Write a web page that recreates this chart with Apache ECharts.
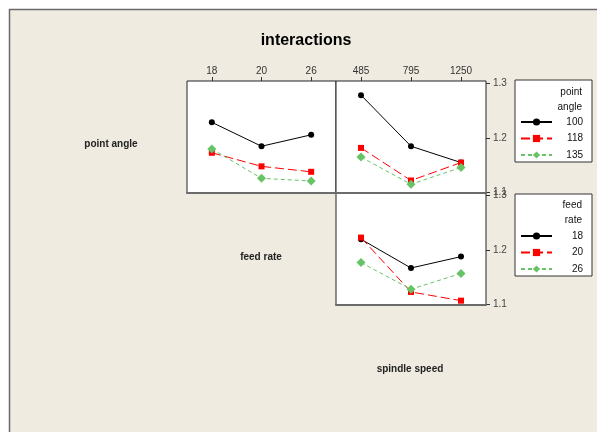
<!DOCTYPE html>
<html><head><meta charset="utf-8">
<script src="https://cdn.jsdelivr.net/npm/echarts@6/dist/echarts.min.js"></script>
<style>html,body{margin:0;padding:0;background:#fff}#c{width:597px;height:432px}</style>
</head><body><div id="c"></div>
<script>
const feedRates = ['18', '20', '26'];
const spindleSpeeds = ['485', '795', '1250'];
const pointAngles = ['100', '118', '135'];
const yTicks = [1.1, 1.2, 1.3];

// point angle x feed rate (mean response)
const paFr100 = [1.229, 1.185, 1.206];
const paFr118 = [1.173, 1.148, 1.138];
const paFr135 = [1.180, 1.126, 1.121];
// point angle x spindle speed
const paSs100 = [1.279, 1.185, 1.155];
const paSs118 = [1.182, 1.122, 1.155];
const paSs135 = [1.165, 1.115, 1.146];
// feed rate x spindle speed
const frSs18 = [1.220, 1.167, 1.188];
const frSs20 = [1.223, 1.123, 1.107];
const frSs26 = [1.177, 1.128, 1.157];

const styles = [
  {color: '#000000', symbol: 'circle', symbolSize: 6, type: 'solid'},
  {color: '#ff0000', symbol: 'rect', symbolSize: 6, type: [9, 4]},
  {color: '#66c466', symbol: 'diamond', symbolSize: 9, type: [4, 3]}
];
const FONT = 'Liberation Sans, Arial, sans-serif';
const YMIN = 1.099, YMAX = 1.305;

function mk(name, data, k, xi, yi) {
  const s = styles[k];
  return {
    name: name, type: 'line', xAxisIndex: xi, yAxisIndex: yi, data: data,
    symbol: s.symbol, symbolSize: s.symbolSize, showSymbol: true,
    itemStyle: {color: s.color},
    lineStyle: {color: s.color, width: 1, type: s.type},
    animation: false
  };
}

const gridBorder = {show: true, borderColor: '#222', borderWidth: 1, backgroundColor: '#ffffff'};
function xAx(gi, cats, showLabels) {
  return {
    type: 'category', gridIndex: gi, data: cats, position: 'top', boundaryGap: true,
    axisLine: {show: false},
    axisTick: {show: showLabels, alignWithLabel: true, length: 4, lineStyle: {color: '#333'}},
    axisLabel: {show: showLabels, color: '#333', fontSize: 10, fontFamily: FONT, margin: 5},
    splitLine: {show: false}
  };
}
function xBottom(gi, cats) {
  return {
    type: 'category', gridIndex: gi, data: cats, position: 'bottom', boundaryGap: true, z: 5,
    axisLine: {show: true, lineStyle: {color: '#6b6b6b', width: 2}},
    axisTick: {show: false}, axisLabel: {show: false}, splitLine: {show: false}
  };
}
function yAx(gi, show) {
  return {
    type: 'value', gridIndex: gi, min: YMIN, max: YMAX, position: 'right', show: show,
    axisLine: {show: false},
    axisTick: {show: true, length: 4, customValues: yTicks, lineStyle: {color: '#333'}},
    axisLabel: {show: true, customValues: yTicks, color: '#444', fontSize: 10, fontFamily: FONT, margin: 7,
      formatter: v => v.toFixed(1)},
    splitLine: {show: false}
  };
}

const legendCommon = {
  orient: 'vertical', left: 515, itemWidth: 31, itemHeight: 9, itemGap: 6.5,
  backgroundColor: '#ffffff', borderColor: '#333', borderWidth: 1,
  padding: [37, 9, 2, 5],
  formatter: n => '{a|' + n + '}',
  textStyle: {color: '#111', fontSize: 10, fontFamily: FONT,
    rich: {a: {width: 26, align: 'right', fontSize: 10, fontFamily: FONT, color: '#111'}}}
};

const option = {
  backgroundColor: '#ffffff',
  animation: false,
  graphic: [
    {type: 'rect', z: -10, shape: {x: 9.5, y: 9.5, width: 600, height: 440},
     style: {fill: '#efebe0', stroke: '#6a6a6a', lineWidth: 1.5}},
    {type: 'text', x: 306, y: 41, z: 10,
     style: {text: 'interactions', fill: '#000', font: 'bold 16px ' + FONT, textAlign: 'center', textVerticalAlign: 'middle'}},
    {type: 'text', x: 111, y: 144, style: {text: 'point angle', fill: '#222', font: 'bold 10px ' + FONT, textAlign: 'center', textVerticalAlign: 'middle'}},
    {type: 'text', x: 261, y: 257, style: {text: 'feed rate', fill: '#222', font: 'bold 10px ' + FONT, textAlign: 'center', textVerticalAlign: 'middle'}},
    {type: 'text', x: 410, y: 369, style: {text: 'spindle speed', fill: '#222', font: 'bold 10px ' + FONT, textAlign: 'center', textVerticalAlign: 'middle'}},
    {type: 'text', x: 582, y: 92, z: 20, style: {text: 'point', fill: '#111', font: '10px ' + FONT, textAlign: 'right', textVerticalAlign: 'middle'}},
    {type: 'text', x: 582, y: 107, z: 20, style: {text: 'angle', fill: '#111', font: '10px ' + FONT, textAlign: 'right', textVerticalAlign: 'middle'}},
    {type: 'text', x: 582, y: 205, z: 20, style: {text: 'feed', fill: '#111', font: '10px ' + FONT, textAlign: 'right', textVerticalAlign: 'middle'}},
    {type: 'text', x: 582, y: 220, z: 20, style: {text: 'rate', fill: '#111', font: '10px ' + FONT, textAlign: 'right', textVerticalAlign: 'middle'}}
  ],
  grid: [
    Object.assign({left: 187, top: 81, width: 149, height: 112}, gridBorder),
    Object.assign({left: 336, top: 81, width: 150, height: 112}, gridBorder),
    Object.assign({left: 336, top: 193, width: 150, height: 112}, gridBorder)
  ],
  xAxis: [xAx(0, feedRates, true), xAx(1, spindleSpeeds, true), xAx(2, spindleSpeeds, false),
          xBottom(0, feedRates), xBottom(1, spindleSpeeds), xBottom(2, spindleSpeeds)],
  yAxis: [yAx(0, false), yAx(1, true), yAx(2, true)],
  legend: [
    Object.assign({top: 80, data: pointAngles}, legendCommon),
    Object.assign({top: 194, data: feedRates}, legendCommon)
  ],
  series: [
    mk(pointAngles[0], paFr100, 0, 0, 0),
    mk(pointAngles[1], paFr118, 1, 0, 0),
    mk(pointAngles[2], paFr135, 2, 0, 0),
    mk(pointAngles[0], paSs100, 0, 1, 1),
    mk(pointAngles[1], paSs118, 1, 1, 1),
    mk(pointAngles[2], paSs135, 2, 1, 1),
    mk(feedRates[0], frSs18, 0, 2, 2),
    mk(feedRates[1], frSs20, 1, 2, 2),
    mk(feedRates[2], frSs26, 2, 2, 2)
  ]
};
const chart = echarts.init(document.getElementById('c'), null, {renderer: 'canvas'});
chart.setOption(option);
</script>
</body></html>
